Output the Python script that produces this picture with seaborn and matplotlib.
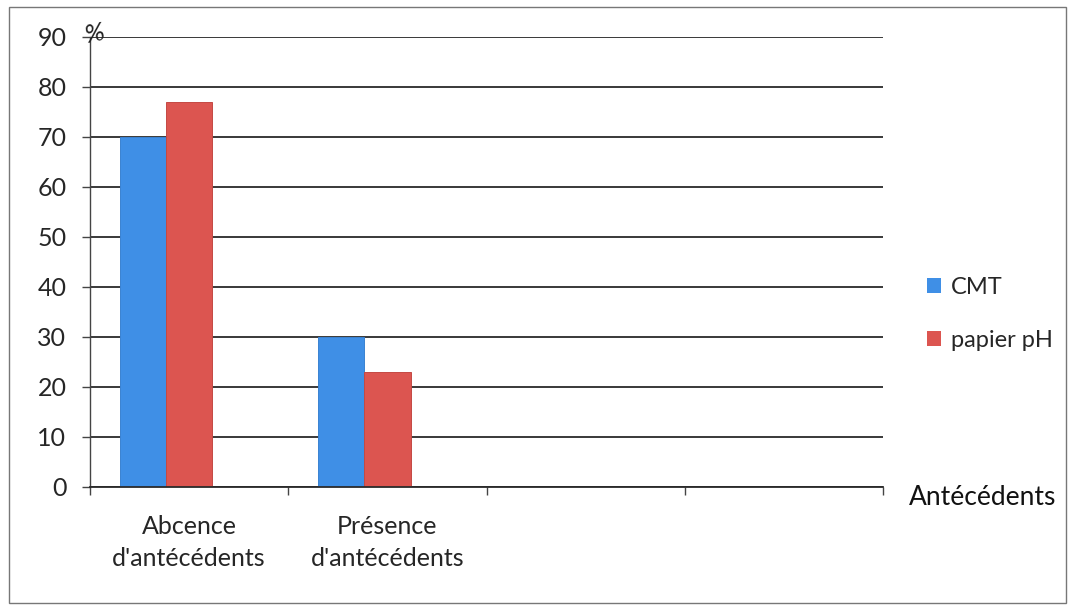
import matplotlib
matplotlib.use("Agg")
import matplotlib.pyplot as plt
import matplotlib.patches as mpatches
import seaborn as sns
import pandas as pd

categories = ["Abcence\nd'antécédents", "Présence\nd'antécédents"]
slots = categories + ["", " "]
series = ["CMT", "papier pH"]
# third series slot is kept empty in the grouping
groups = series + ["Série3"]
cmt_values = [70, 30]
ph_values = [77, 23]
y_ticks = [0, 10, 20, 30, 40, 50, 60, 70, 80, 90]

colors = {"CMT": "#3f8fe6", "papier pH": "#dc5550", "Série3": "#9bbb59"}

df = pd.DataFrame({
    "categorie": categories * 2,
    "serie": [series[0]] * len(categories) + [series[1]] * len(categories),
    "valeur": cmt_values + ph_values,
})

sns.set_style("white")
plt.rcParams["font.family"] = ["Lato", "DejaVu Sans"]

fig = plt.figure(figsize=(10.72, 6.07), dpi=100)
ax = fig.add_axes([0.0840, 0.1977, 0.7397, 0.7414])

sns.barplot(data=df, x="categorie", y="valeur", hue="serie", order=slots,
            hue_order=groups, palette=colors, width=0.7, saturation=1,
            ax=ax, edgecolor="none", legend=False)

edge = {"CMT": "#3a82d2", "papier pH": "#c44843"}
for bar in ax.patches:
    fc = matplotlib.colors.to_hex(bar.get_facecolor())
    for s in series:
        if fc == colors[s]:
            bar.set_edgecolor(edge[s])
            bar.set_linewidth(0.7)

ax.set_ylim(0, 90)
ax.set_xlim(-0.5, 3.5)
ax.set_yticks(y_ticks)
ax.set_yticklabels([str(v) for v in y_ticks], fontsize=18)
ax.yaxis.grid(True, color="#2a2a2a", linewidth=1.3)
ax.set_axisbelow(True)
ax.tick_params(axis="y", length=6, width=1, color="#444444", pad=11, left=True)

ax.set_xticks(range(4))
ax.set_xticklabels(slots, fontsize=18, linespacing=1.5)
ax.tick_params(axis="x", which="major", length=0, pad=20)
ax.set_xticks([-0.5, 0.5, 1.5, 2.5, 3.5], minor=True)
ax.tick_params(axis="x", which="minor", length=6, width=1, color="#444444",
               bottom=True, direction="out")

for side in ["top", "right"]:
    ax.spines[side].set_visible(False)
ax.spines["left"].set_color("#444444")
ax.spines["bottom"].set_color("#2a2a2a")
ax.spines["left"].set_linewidth(1.0)
ax.spines["bottom"].set_linewidth(1.3)

ax.set_xlabel("")
ax.set_ylabel("")

fig.text(0.0885, 0.945, "%", fontsize=19, style="italic", rotation=12,
         ha="center", va="center", color="#222222")
fig.text(0.9165, 0.180, "Antécédents", fontsize=19, ha="center", va="center",
         color="#111111")

handles = [mpatches.Patch(facecolor=colors[s], edgecolor="none", label=s)
           for s in series]
fig.legend(handles=handles, loc="center left", bbox_to_anchor=(0.845, 0.483),
           frameon=False, fontsize=17, handlelength=0.6, handleheight=0.6,
           handletextpad=0.4, labelspacing=1.35)

fig.patches.append(mpatches.Rectangle((0.008, 0.007), 0.986, 0.982,
                                      transform=fig.transFigure, fill=False,
                                      edgecolor="#777777", linewidth=1.0))

fig.savefig("out.png", dpi=100)
